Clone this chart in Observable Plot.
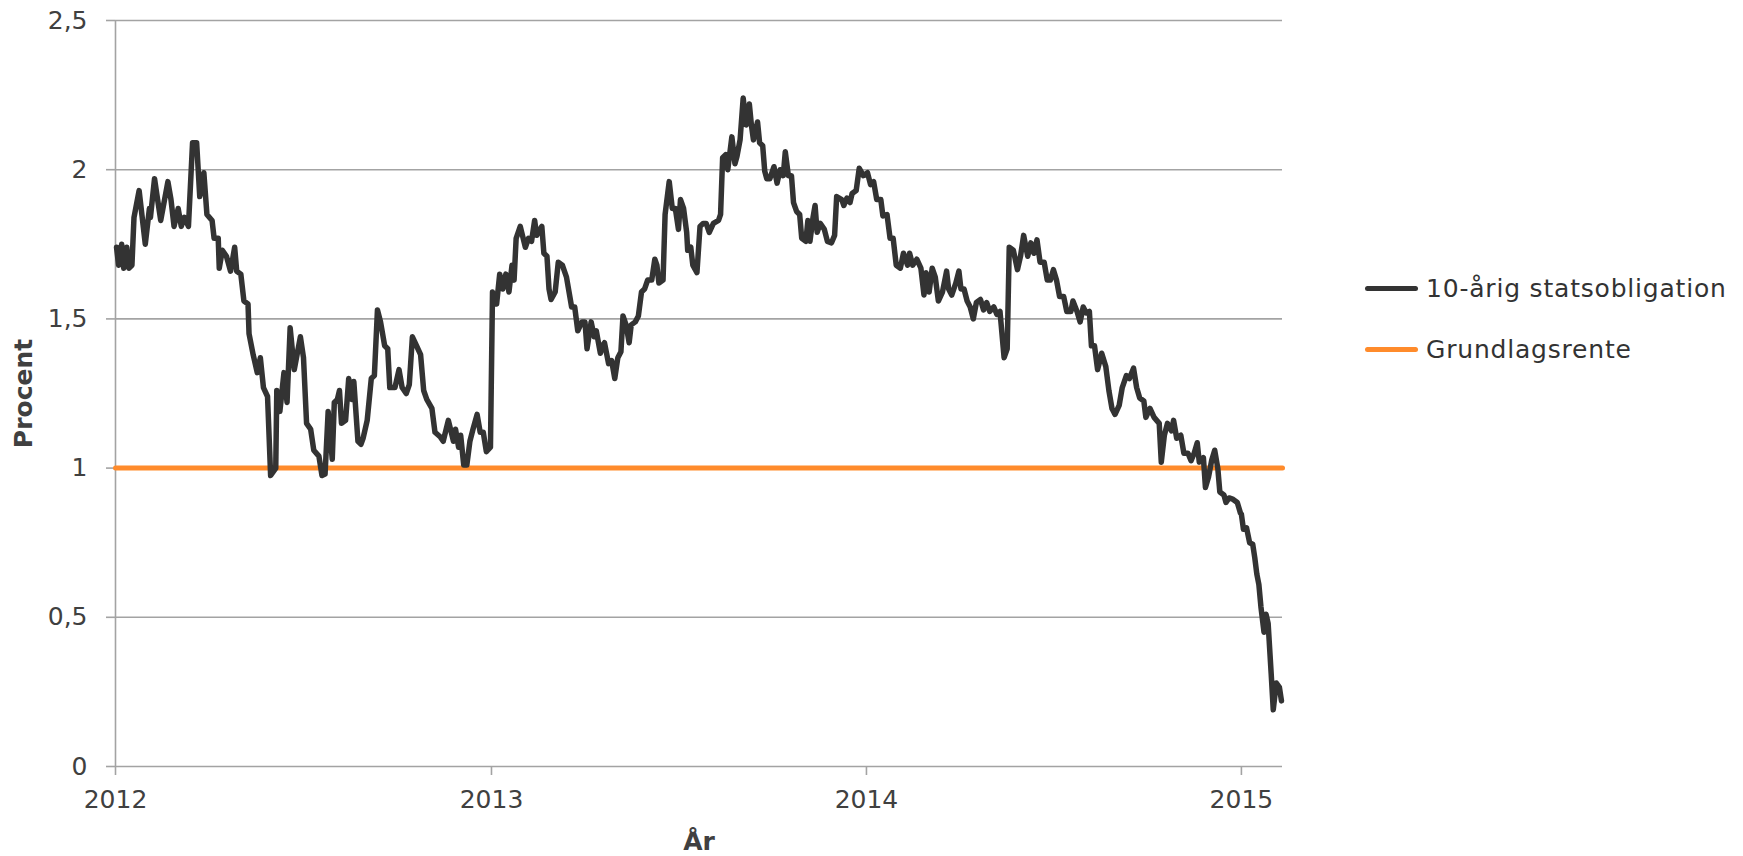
<!DOCTYPE html>
<html>
<head>
<meta charset="utf-8">
<script src="https://cdn.jsdelivr.net/npm/d3@7"></script>
<script src="https://cdn.jsdelivr.net/npm/@observablehq/plot@0.6"></script>
<style>
  body { margin: 0; background: #fff; }
  #wrap { position: relative; width: 1743px; height: 856px; font-family: "DejaVu Sans", Verdana, sans-serif; }
  .lg-line { position: absolute; height: 5px; border-radius: 2.5px; }
  .lg-text { position: absolute; font-size: 25px; line-height: 1; color: #333; transform: translateY(-50%); white-space: nowrap; letter-spacing: 0.8px; }
</style>
</head>
<body>
<div id="wrap"></div>
<script>
// 10-årig statsobligation (procent)
const bond2012 = [
["2012-01-02",1.74],["2012-01-04",1.68],["2012-01-07",1.75],["2012-01-09",1.67],["2012-01-12",1.74],["2012-01-14",1.67],["2012-01-17",1.68],["2012-01-19",1.84],["2012-01-24",1.93],["2012-01-30",1.75],
["2012-02-03",1.87],["2012-02-04",1.84],["2012-02-08",1.97],["2012-02-11",1.90],["2012-02-14",1.83],["2012-02-21",1.96],["2012-02-24",1.90],["2012-02-27",1.81],
["2012-03-02",1.87],["2012-03-05",1.81],["2012-03-08",1.84],["2012-03-12",1.81],["2012-03-16",2.09],["2012-03-20",2.09],["2012-03-23",1.91],["2012-03-27",1.99],["2012-03-30",1.85],
["2012-04-04",1.83],["2012-04-06",1.77],["2012-04-10",1.77],["2012-04-11",1.67],["2012-04-14",1.73],["2012-04-18",1.71],["2012-04-22",1.66],["2012-04-26",1.74],["2012-04-28",1.66],
["2012-05-02",1.65],["2012-05-05",1.56],["2012-05-09",1.55],["2012-05-10",1.45],["2012-05-14",1.38],["2012-05-18",1.32],["2012-05-21",1.37],["2012-05-24",1.27],["2012-05-28",1.24],["2012-05-31",0.975],
["2012-06-05",1.0],["2012-06-06",1.26],["2012-06-09",1.19],["2012-06-13",1.32],["2012-06-16",1.22],["2012-06-19",1.47],["2012-06-23",1.33],["2012-06-29",1.44],
["2012-07-02",1.37],["2012-07-05",1.15],["2012-07-09",1.13],["2012-07-12",1.06],["2012-07-17",1.04],["2012-07-20",0.975],["2012-07-23",0.98],["2012-07-26",1.19],["2012-07-30",1.03],
["2012-08-01",1.22],["2012-08-04",1.23],["2012-08-06",1.26],["2012-08-08",1.15],["2012-08-12",1.16],["2012-08-15",1.30],["2012-08-18",1.23],["2012-08-20",1.29],["2012-08-24",1.09],["2012-08-27",1.08],["2012-08-29",1.10],
["2012-09-02",1.16],["2012-09-06",1.30],["2012-09-09",1.31],["2012-09-12",1.53],["2012-09-15",1.49],["2012-09-19",1.41],["2012-09-22",1.40],["2012-09-24",1.27],["2012-09-29",1.27],
["2012-10-03",1.33],["2012-10-06",1.27],["2012-10-10",1.25],["2012-10-13",1.28],["2012-10-16",1.44],["2012-10-20",1.41],["2012-10-24",1.38],["2012-10-27",1.26],["2012-10-30",1.23],
["2012-11-04",1.20],["2012-11-07",1.12],["2012-11-12",1.105],["2012-11-15",1.09],["2012-11-20",1.16],["2012-11-25",1.09],["2012-11-27",1.13],["2012-11-30",1.07],
["2012-12-02",1.11],["2012-12-05",1.01],["2012-12-08",1.01],["2012-12-11",1.09],["2012-12-14",1.13],["2012-12-18",1.18],["2012-12-21",1.12],["2012-12-24",1.12],["2012-12-27",1.055],["2012-12-31",1.07]
];
const bond2013 = [
["2013-01-02",1.59],["2013-01-06",1.55],["2013-01-09",1.65],["2013-01-12",1.60],["2013-01-15",1.65],["2013-01-18",1.59],["2013-01-21",1.68],["2013-01-23",1.63],["2013-01-25",1.77],["2013-01-29",1.81],
["2013-02-03",1.74],["2013-02-06",1.77],["2013-02-09",1.76],["2013-02-12",1.83],["2013-02-14",1.78],["2013-02-19",1.81],["2013-02-21",1.72],["2013-02-24",1.71],["2013-02-26",1.60],["2013-02-28",1.565],
["2013-03-04",1.59],["2013-03-07",1.69],["2013-03-11",1.68],["2013-03-15",1.64],["2013-03-18",1.58],["2013-03-20",1.54],["2013-03-23",1.54],["2013-03-26",1.46],["2013-03-30",1.49],
["2013-04-02",1.49],["2013-04-04",1.40],["2013-04-08",1.49],["2013-04-11",1.44],["2013-04-13",1.46],["2013-04-17",1.385],["2013-04-19",1.41],["2013-04-21",1.42],["2013-04-25",1.35],["2013-04-28",1.36],
["2013-05-01",1.30],["2013-05-04",1.37],["2013-05-07",1.39],["2013-05-09",1.51],["2013-05-12",1.48],["2013-05-15",1.42],["2013-05-17",1.48],["2013-05-21",1.49],["2013-05-24",1.51],["2013-05-27",1.59],["2013-05-30",1.60],
["2013-06-02",1.63],["2013-06-06",1.63],["2013-06-09",1.70],["2013-06-11",1.68],["2013-06-13",1.62],["2013-06-17",1.63],["2013-06-19",1.85],["2013-06-23",1.96],["2013-06-26",1.87],["2013-06-29",1.87],
["2013-07-02",1.80],["2013-07-04",1.90],["2013-07-07",1.87],["2013-07-10",1.79],["2013-07-11",1.73],["2013-07-14",1.74],["2013-07-16",1.68],["2013-07-20",1.655],["2013-07-23",1.81],["2013-07-26",1.82],["2013-07-29",1.82],
["2013-08-01",1.79],["2013-08-05",1.82],["2013-08-10",1.83],["2013-08-12",1.85],["2013-08-14",2.04],["2013-08-17",2.05],["2013-08-19",2.00],["2013-08-23",2.11],["2013-08-26",2.02],["2013-08-28",2.045],["2013-08-31",2.10],
["2013-09-03",2.24],["2013-09-06",2.15],["2013-09-09",2.22],["2013-09-11",2.15],["2013-09-13",2.10],["2013-09-17",2.16],["2013-09-19",2.09],["2013-09-22",2.08],["2013-09-24",1.995],["2013-09-26",1.97],["2013-09-29",1.97],
["2013-10-03",2.01],["2013-10-06",1.955],["2013-10-09",2.00],["2013-10-12",1.98],["2013-10-14",2.06],["2013-10-17",1.98],["2013-10-20",1.98],["2013-10-22",1.89],["2013-10-25",1.86],["2013-10-28",1.85],["2013-10-30",1.77],
["2013-11-03",1.76],["2013-11-05",1.83],["2013-11-07",1.76],["2013-11-10",1.84],["2013-11-12",1.88],["2013-11-14",1.79],["2013-11-17",1.82],["2013-11-21",1.80],["2013-11-24",1.76],["2013-11-28",1.755],
["2013-12-01",1.78],["2013-12-03",1.91],["2013-12-08",1.90],["2013-12-10",1.88],["2013-12-13",1.905],["2013-12-16",1.89],["2013-12-18",1.92],["2013-12-22",1.93],["2013-12-25",2.005],["2013-12-29",1.98]
];
const bond2014 = [
["2014-01-02",1.99],["2014-01-05",1.95],["2014-01-08",1.96],["2014-01-11",1.90],["2014-01-15",1.90],["2014-01-17",1.845],["2014-01-21",1.85],["2014-01-24",1.77],["2014-01-27",1.77],["2014-01-30",1.68],
["2014-02-03",1.67],["2014-02-06",1.72],["2014-02-10",1.68],["2014-02-12",1.72],["2014-02-15",1.68],["2014-02-19",1.70],["2014-02-23",1.67],["2014-02-26",1.58],["2014-02-28",1.655],
["2014-03-03",1.59],["2014-03-06",1.67],["2014-03-09",1.64],["2014-03-12",1.56],["2014-03-16",1.59],["2014-03-20",1.66],["2014-03-22",1.60],["2014-03-25",1.58],["2014-03-29",1.62],
["2014-04-01",1.66],["2014-04-03",1.60],["2014-04-06",1.60],["2014-04-09",1.56],["2014-04-12",1.54],["2014-04-15",1.50],["2014-04-18",1.555],["2014-04-22",1.565],["2014-04-25",1.53],["2014-04-28",1.555],
["2014-05-01",1.525],["2014-05-05",1.54],["2014-05-08",1.515],["2014-05-11",1.525],["2014-05-15",1.37],["2014-05-18",1.40],["2014-05-20",1.74],["2014-05-24",1.73],["2014-05-28",1.665],["2014-05-31",1.71],
["2014-06-03",1.78],["2014-06-07",1.71],["2014-06-10",1.755],["2014-06-13",1.72],["2014-06-16",1.765],["2014-06-19",1.69],["2014-06-23",1.69],["2014-06-26",1.63],["2014-06-29",1.63],
["2014-07-02",1.665],["2014-07-05",1.63],["2014-07-08",1.575],["2014-07-12",1.575],["2014-07-15",1.525],["2014-07-19",1.525],["2014-07-21",1.56],["2014-07-25",1.525],["2014-07-28",1.49],["2014-07-31",1.54],
["2014-08-03",1.52],["2014-08-06",1.525],["2014-08-08",1.41],["2014-08-11",1.41],["2014-08-14",1.33],["2014-08-18",1.385],["2014-08-22",1.34],["2014-08-25",1.26],["2014-08-28",1.20],["2014-08-31",1.18],
["2014-09-04",1.21],["2014-09-07",1.27],["2014-09-11",1.31],["2014-09-14",1.30],["2014-09-18",1.335],["2014-09-21",1.27],["2014-09-24",1.235],["2014-09-28",1.225],["2014-09-30",1.17],
["2014-10-04",1.20],["2014-10-08",1.17],["2014-10-13",1.15],["2014-10-15",1.02],["2014-10-18",1.11],["2014-10-21",1.15],["2014-10-25",1.125],["2014-10-27",1.16],["2014-10-30",1.10],
["2014-11-03",1.11],["2014-11-06",1.05],["2014-11-10",1.05],["2014-11-13",1.025],["2014-11-16",1.05],["2014-11-19",1.085],["2014-11-21",1.02],["2014-11-25",1.035],["2014-11-27",0.935],["2014-11-30",0.97],
["2014-12-03",1.025],["2014-12-06",1.06],["2014-12-09",1.00],["2014-12-11",0.92],["2014-12-15",0.91],["2014-12-17",0.885],["2014-12-20",0.90],["2014-12-24",0.895],["2014-12-28",0.885],["2014-12-31",0.85]
];
const bond2015 = [
["2015-01-01",0.845],["2015-01-03",0.795],["2015-01-06",0.80],["2015-01-09",0.75],["2015-01-12",0.745],["2015-01-14",0.70],["2015-01-16",0.645],["2015-01-18",0.61],["2015-01-20",0.535],
["2015-01-23",0.45],["2015-01-25",0.51],["2015-01-27",0.48],["2015-01-30",0.31],["2015-02-01",0.19],["2015-02-04",0.28],["2015-02-07",0.265],["2015-02-09",0.22]
];
// Grundlagsrente (procent)
const rateDates = ["2012-01-01", "2015-02-10"];
const rateValues = [1, 1];

const xDomain = ["2012-01-01", "2015-02-10"];
const xTicks = ["2012-01-01", "2013-01-01", "2014-01-01", "2015-01-01"];
const yTicks = [0, 0.5, 1, 1.5, 2, 2.5];
const seriesNames = ["10-årig statsobligation", "Grundlagsrente"];
const seriesColors = ["#333333", "#ff8b2b"];
const xTitle = "År";
const yTitle = "Procent";

const parse = s => new Date(s + "T00:00:00Z");
const bond = [...bond2012, ...bond2013, ...bond2014, ...bond2015].map(([d, v]) => ({date: parse(d), value: v}));
const rate = rateDates.map((d, i) => ({date: parse(d), value: rateValues[i]}));

const gridColor = "#a3a3a3";
const chart = Plot.plot({
  width: 1743,
  height: 856,
  marginLeft: 115,
  marginRight: 461,
  marginTop: 20,
  marginBottom: 90,
  style: {fontFamily: "'DejaVu Sans', Verdana, sans-serif", fontSize: "25px", background: "white", overflow: "visible"},
  x: {type: "utc", domain: xDomain.map(parse)},
  y: {domain: [0, 2.5]},
  marks: [
    Plot.ruleY(yTicks, {stroke: gridColor, strokeWidth: 1.6}),
    Plot.ruleX([parse(xDomain[0])], {y1: 0, y2: 2.5, stroke: gridColor, strokeWidth: 1.6}),
    Plot.axisY({ticks: yTicks, tickFormat: d => String(d).replace(".", ","), tickSize: 9, tickPadding: 19,
      stroke: gridColor, strokeWidth: 1.6, fill: "#404040", label: null, letterSpacing: 1}),
    Plot.axisX({ticks: xTicks.map(parse), tickFormat: d3.utcFormat("%Y"), tickSize: 9, tickPadding: 15,
      stroke: gridColor, strokeWidth: 1.6, fill: "#404040", label: null, letterSpacing: 1}),
    Plot.line(rate, {x: "date", y: "value", stroke: seriesColors[1], strokeWidth: 5}),
    Plot.line(bond, {x: "date", y: "value", stroke: seriesColors[0], strokeWidth: 5.5, strokeLinejoin: "round", strokeLinecap: "round"}),
    Plot.text([yTitle], {frameAnchor: "left", dx: -92, rotate: -90, text: d => d, textAnchor: "middle", fontWeight: "bold", fill: "#404040", fontSize: 25, lineAnchor: "middle"}),
    Plot.text([xTitle], {frameAnchor: "bottom", dy: 75, text: d => d, textAnchor: "middle", fontWeight: "bold", fill: "#404040", fontSize: 25, lineAnchor: "middle"})
  ]
});

const wrap = document.getElementById("wrap");
wrap.appendChild(chart);
const legendY = [288, 349];
seriesNames.forEach((name, i) => {
  const line = document.createElement("div");
  line.className = "lg-line";
  line.style.left = "1365px";
  line.style.width = "53px";
  line.style.top = (legendY[i] - 2.5) + "px";
  line.style.background = seriesColors[i];
  wrap.appendChild(line);
  const t = document.createElement("div");
  t.className = "lg-text";
  t.style.left = "1426px";
  t.style.top = legendY[i] + "px";
  t.textContent = name;
  wrap.appendChild(t);
});
</script>
</body>
</html>
